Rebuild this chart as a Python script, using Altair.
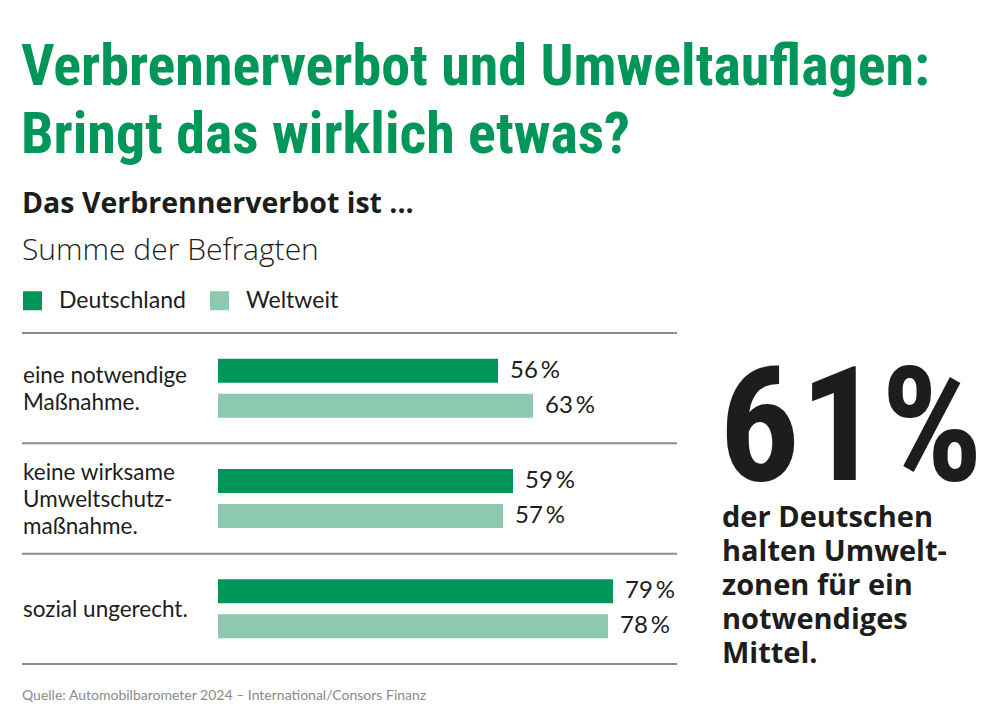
import altair as alt
import pandas as pd

# ---- data ----
categories = [
    "eine notwendige\nMaßnahme.",
    "keine wirksame\nUmweltschutz-\nmaßnahme.",
    "sozial ungerecht.",
]
series = ["Deutschland", "Weltweit"]
deutschland = [56, 59, 79]
weltweit = [63, 57, 78]
colors = ["#00965A", "#8DC9AE"]

title_lines = ["Verbrennerverbot und Umweltauflagen:", "Bringt das wirklich etwas?"]
subtitle = "Das Verbrennerverbot ist ..."
unit_note = "Summe der Befragten"
big_number = "61%"
big_text = "der Deutschen\nhalten Umwelt-\nzonen für ein\nnotwendiges\nMittel."
source = "Quelle: Automobilbarometer 2024 – International/Consors Finanz"

rows = []
for c, d, w in zip(categories, deutschland, weltweit):
    rows.append({"cat": c, "series": series[0], "value": d})
    rows.append({"cat": c, "series": series[1], "value": w})
df = pd.DataFrame(rows)
df["label"] = df["value"].astype(str) + "\u2009%"

BODY = "Lato"
WIDE = "'Open Sans', 'Noto Sans', sans-serif"
NARROW = "'Roboto Condensed', 'Open Sans Condensed', 'DejaVu Sans Condensed', sans-serif"
INK = "#1d1d1b"

yscale = alt.Scale(domain=categories, range=[333, 664], paddingInner=0, paddingOuter=0)
xscale = alt.Scale(domain=[0, 100], range=[218, 718])
offscale = alt.Scale(domain=series, paddingInner=0.314, paddingOuter=0.733)


def Y(band=0.5):
    return alt.Y("cat:N", scale=yscale, axis=None, bandPosition=band)


X = alt.X("value:Q", scale=xscale, axis=None)
YO = alt.YOffset("series:N", scale=offscale)

bars = alt.Chart(df).mark_bar().encode(
    x=X,
    y=alt.Y("cat:N", scale=yscale, axis=None),
    yOffset=YO,
    color=alt.Color(
        "series:N",
        scale=alt.Scale(domain=series, range=colors),
        legend=alt.Legend(
            orient="none", legendX=21, legendY=289, direction="horizontal",
            title=None, symbolType="square", symbolSize=361, symbolStrokeWidth=0,
            symbolOpacity=1, labelFontSize=23, labelFont=BODY, labelColor=INK,
            labelOffset=15, columnPadding=22, padding=0,
        ),
    ),
)

values = alt.Chart(df).mark_text(
    align="left", baseline="middle", dx=12, fontSize=24, font=BODY, color=INK
).encode(x=X, y=alt.Y("cat:N", scale=yscale, axis=None), yOffset=YO, text="label:N")

LH = 27
cat_layers = []
for c in categories:
    n = c.count("\n") + 1
    cat_layers.append(
        alt.Chart(pd.DataFrame({"cat": [c]})).mark_text(
            align="left", baseline="middle", lineBreak="\n", lineHeight=LH,
            fontSize=22.5, font=BODY, color=INK, dy=-(n - 1) * LH / 2 + 1
        ).encode(x=alt.value(23), y=Y(0.5), text="cat:N")
    )

cat_df = pd.DataFrame({"cat": categories})
rules_top = alt.Chart(cat_df).mark_rule(color="#8c8c8c", strokeWidth=2).encode(
    x=alt.value(22), x2=alt.value(677), y=Y(0)
)
rule_bottom = alt.Chart(cat_df.tail(1)).mark_rule(color="#8c8c8c", strokeWidth=2).encode(
    x=alt.value(22), x2=alt.value(677), y=Y(1)
)


def note(text, x, y, size, weight="normal", color=INK, font=BODY, **kw):
    return alt.Chart(pd.DataFrame({"t": [text]})).mark_text(
        align="left", baseline="alphabetic", font=font, fontSize=size,
        fontWeight=weight, color=color, **kw
    ).encode(x=alt.value(x), y=alt.value(y), text="t:N")


texts = [
    note(title_lines[0], 21, 85, 58, "bold", "#00965A", NARROW),
    note(title_lines[1], 21, 153, 58, "bold", "#00965A", NARROW),
    note(subtitle, 22, 213, 28.5, "bold", INK, WIDE),
    note(unit_note, 22, 260, 30, 300, INK, WIDE),
    note(big_number, 719, 480, 160, "bold", INK, NARROW),
    note(big_text, 722, 527, 29, "bold", INK, WIDE, lineBreak="\n", lineHeight=34),
    note(source, 22, 700, 14, "normal", "#8a8a8a"),
]

chart = alt.layer(rules_top, rule_bottom, bars, values, *cat_layers, *texts).properties(
    width=1000, height=723, padding=0,
    autosize=alt.AutoSizeParams(type="none"),
    background="white",
).configure_view(stroke=None)

chart.save("out.html", embed_options={"renderer": "svg", "actions": False})
